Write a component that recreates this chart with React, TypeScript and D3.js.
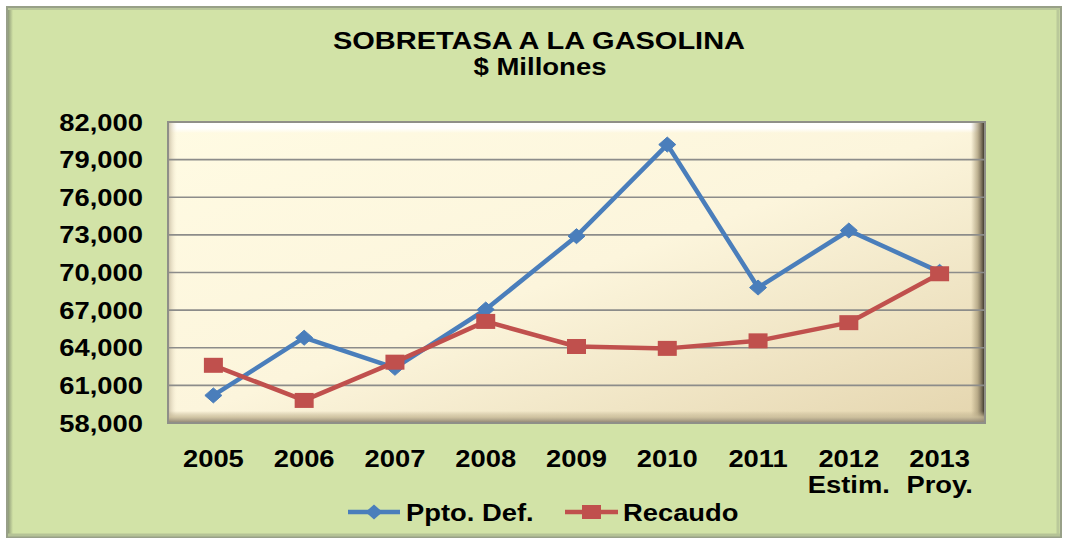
import React from 'react';
import * as d3 from 'd3';

const years = ['2005', '2006', '2007', '2008', '2009', '2010', '2011', '2012', '2013'];
const subLabels = ['', '', '', '', '', '', '', 'Estim.', 'Proy.'];
const pptoDef = [60200, 64800, 62400, 67050, 72900, 80200, 68800, 73350, 70050];
const recaudo = [62600, 59800, 62850, 66100, 64100, 63950, 64550, 66000, 69900];
const yTicks = [58000, 61000, 64000, 67000, 70000, 73000, 76000, 79000, 82000];

const W = 1067;
const H = 540;
const plot = { left: 168, right: 985, top: 122, bottom: 423 };
const FONT = '"Liberation Sans", Arial, sans-serif';
const SX = 1.14;

const BLUE = '#4a7ebb';
const RED = '#c0504d';

const App: React.FC = () => {
    const x = d3.scalePoint<string>()
        .domain(years)
        .range([plot.left, plot.right])
        .padding(0.5);

    const y = d3.scaleLinear()
        .domain([58000, 82000])
        .range([plot.bottom, plot.top]);

    const line = d3.line<number>()
        .x((_, i) => x(years[i]) as number)
        .y(d => y(d));

    const fmt = d3.format(',');

    const diamond = (cx: number, cy: number) =>
        `M${cx},${cy - 7.5} L${cx + 8.5},${cy} L${cx},${cy + 7.5} L${cx - 8.5},${cy} Z`;

    const label = (tx: number, ty: number, text: string, anchor: string, size = 24) => (
        <text
            transform={`translate(${tx},${ty}) scale(${SX},1)`}
            textAnchor={anchor}
            fontFamily={FONT}
            fontWeight="bold"
            fontSize={size}
            fill="#000"
        >{text}</text>
    );

    return (
        <svg width={W} height={H} style={{ position: 'absolute', left: 0, top: 0 }}>
            <defs>
                <linearGradient id="plotBg" x1="0" y1="0" x2="1" y2="1">
                    <stop offset="0" stopColor="#fffbe3" />
                    <stop offset="0.5" stopColor="#fcf5dc" />
                    <stop offset="1" stopColor="#e4d5ae" />
                </linearGradient>
                <linearGradient id="bevelTop" x1="0" y1="0" x2="0" y2="1">
                    <stop offset="0" stopColor="#ffffff" stopOpacity="1" />
                    <stop offset="0.6" stopColor="#ffffff" stopOpacity="0.9" />
                    <stop offset="1" stopColor="#ffffff" stopOpacity="0" />
                </linearGradient>
                <linearGradient id="bevelRight" x1="0" y1="0" x2="1" y2="0">
                    <stop offset="0" stopColor="#a89a78" stopOpacity="0" />
                    <stop offset="0.45" stopColor="#a89a78" stopOpacity="0.7" />
                    <stop offset="0.8" stopColor="#6e6450" stopOpacity="1" />
                    <stop offset="1" stopColor="#2e2a20" stopOpacity="1" />
                </linearGradient>
                <linearGradient id="bevelBottom" x1="0" y1="0" x2="0" y2="1">
                    <stop offset="0" stopColor="#b8aa88" stopOpacity="0" />
                    <stop offset="0.5" stopColor="#c8bb98" stopOpacity="0.8" />
                    <stop offset="1" stopColor="#8a8070" stopOpacity="1" />
                </linearGradient>
                <linearGradient id="bevelLeft" x1="0" y1="0" x2="1" y2="0">
                    <stop offset="0" stopColor="#c9bfa5" stopOpacity="1" />
                    <stop offset="1" stopColor="#f4ead0" stopOpacity="0" />
                </linearGradient>
                <linearGradient id="outerLeft" x1="0" y1="0" x2="1" y2="0">
                    <stop offset="0" stopColor="#8e9a78" />
                    <stop offset="1" stopColor="#d2e3a6" />
                </linearGradient>
            </defs>

            {/* chart area */}
            <rect x={7} y={7} width={1054} height={530} fill="#d2e3a7" stroke="#98a088" strokeWidth={2} />
            <rect x={8} y={8} width={5} height={528} fill="url(#outerLeft)" />
            <line x1={8} x2={1060} y1={9} y2={9} stroke="#b9c79a" strokeWidth={2} />
            <line x1={1058} x2={1058} y1={8} y2={536} stroke="#bac99a" strokeWidth={3} />
            <line x1={8} x2={1060} y1={535} y2={535} stroke="#b5c396" strokeWidth={3} />

            {/* title */}
            <text x={539} y={49} textAnchor="middle" fontFamily={FONT} fontWeight="bold" fontSize={23}
                textLength={412} lengthAdjust="spacingAndGlyphs">SOBRETASA A LA GASOLINA</text>
            <text x={540} y={75} textAnchor="middle" fontFamily={FONT} fontWeight="bold" fontSize={23}
                textLength={133} lengthAdjust="spacingAndGlyphs">$ Millones</text>

            {/* plot area */}
            <rect x={plot.left} y={plot.top} width={plot.right - plot.left} height={plot.bottom - plot.top}
                fill="url(#plotBg)" />
            <rect x={plot.left} y={plot.top} width={plot.right - plot.left} height={11} fill="url(#bevelTop)" />
            <rect x={plot.left} y={plot.top} width={9} height={plot.bottom - plot.top} fill="url(#bevelLeft)" />
            <rect x={plot.right - 14} y={plot.top} width={14} height={plot.bottom - plot.top} fill="url(#bevelRight)" />
            <rect x={plot.left} y={plot.bottom - 12} width={plot.right - plot.left} height={12} fill="url(#bevelBottom)" />

            {/* gridlines */}
            {yTicks.slice(1, -1).map(t => (
                <line key={t} x1={plot.left} x2={plot.right} y1={y(t)} y2={y(t)} stroke="#8c8c8a" strokeWidth={1.6} />
            ))}
            <rect x={plot.left} y={plot.top} width={plot.right - plot.left} height={plot.bottom - plot.top}
                fill="none" stroke="#8f8f88" strokeWidth={2} />

            {/* y labels */}
            {yTicks.map(t => (
                <g key={t}>{label(143, y(t) + 8.5, fmt(t), 'end')}</g>
            ))}

            {/* x labels */}
            {years.map((yr, i) => (
                <g key={yr}>
                    {label(x(yr) as number, 467, yr, 'middle')}
                    {subLabels[i] && label(x(yr) as number, 493, subLabels[i], 'middle')}
                </g>
            ))}

            {/* series */}
            <path d={line(pptoDef) as string} fill="none" stroke={BLUE} strokeWidth={4.5} strokeLinejoin="round" />
            {pptoDef.map((v, i) => (
                <path key={i} d={diamond(x(years[i]) as number, y(v))} fill={BLUE} stroke={BLUE} strokeWidth={1} />
            ))}
            <path d={line(recaudo) as string} fill="none" stroke={RED} strokeWidth={4.5} strokeLinejoin="round" />
            {recaudo.map((v, i) => (
                <rect key={i} x={(x(years[i]) as number) - 9.5} y={y(v) - 7.5} width={19} height={15} fill={RED} />
            ))}

            {/* legend */}
            <line x1={348} x2={400} y1={512} y2={512} stroke={BLUE} strokeWidth={4.5} />
            <path d={diamond(374, 512)} fill={BLUE} />
            {label(406, 521, 'Ppto. Def.', 'start')}
            <line x1={565} x2={618} y1={512} y2={512} stroke={RED} strokeWidth={4.5} />
            <rect x={582} y={505} width={19} height={14} fill={RED} />
            {label(623, 521, 'Recaudo', 'start')}
        </svg>
    );
};

export default App;
